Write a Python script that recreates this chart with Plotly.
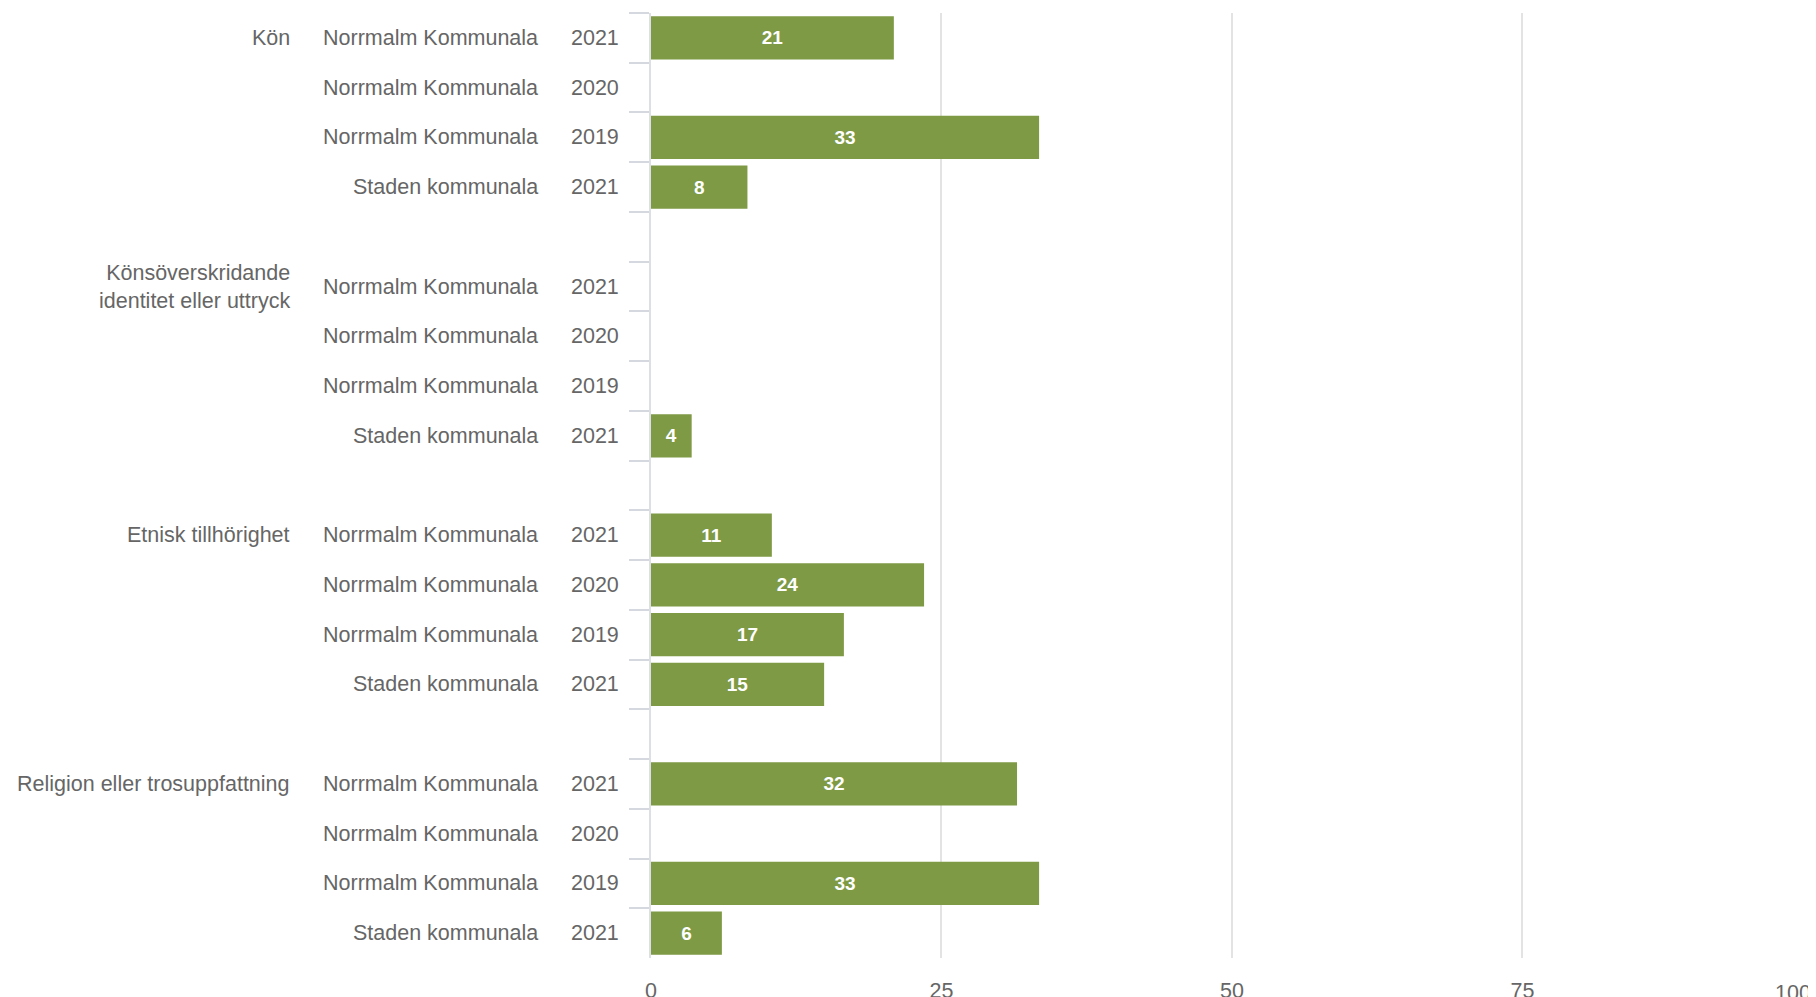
import plotly.graph_objects as go

# ---- data ----
groups = ["Kön", "Könsöverskridande<br>identitet eller uttryck", "Etnisk tillhörighet", "Religion eller trosuppfattning"]
units = ["Norrmalm Kommunala", "Norrmalm Kommunala", "Norrmalm Kommunala", "Staden kommunala"]
years = ["2021", "2020", "2019", "2021"]
values_kon = [20.9, None, 33.4, 8.3]
values_kons = [None, None, None, 3.5]
values_etn = [10.4, 23.5, 16.6, 14.9]
values_rel = [31.5, None, 33.4, 6.1]
labels_kon = ["21", "", "33", "8"]
labels_kons = ["", "", "", "4"]
labels_etn = ["11", "24", "17", "15"]
labels_rel = ["32", "", "33", "6"]
x_ticks = [0, 25, 50, 75, 100]

group_values = [values_kon, values_kons, values_etn, values_rel]
group_labels = [labels_kon, labels_kons, labels_etn, labels_rel]

# ---- build rows (with a blank spacer row between groups) ----
cats, vals, texts = [], [], []
row_unit, row_year, row_group = [], [], []
for gi, g in enumerate(groups):
    for ri in range(len(units)):
        cid = f"g{gi}r{ri}"
        cats.append(cid)
        vals.append(group_values[gi][ri])
        texts.append(group_labels[gi][ri])
        row_unit.append((cid, units[ri]))
        row_year.append((cid, years[ri]))
        if ri == 0:
            row_group.append((cid, g))
    if gi < len(groups) - 1:
        cid = f"gap{gi}"
        cats.append(cid)
        vals.append(None)
        texts.append("")

# page body has an 8px margin; figure is sized/placed to compensate
OFF = 8
W, H = 1808, 989
ML, MR, MT, MB = 643, 0, 5, 39
PW = W - ML - MR
PH = H - MT - MB
X_MAX = 100.26  # plot area runs slightly past the 100 gridline

def px_to_paper(px_page):
    return (px_page - OFF - ML) / PW

def py_to_paper(py_page):
    return 1 - (py_page - OFF - MT) / PH

FONT = "Liberation Sans, Arial, Helvetica, sans-serif"
TXT = "#666666"
FS = 21.5

fig = go.Figure()
fig.add_trace(go.Bar(
    y=cats, x=vals, orientation="h",
    marker=dict(color="#7e9a44", line=dict(width=0)),
    text=texts, textposition="inside", insidetextanchor="middle",
    textangle=0, constraintext="none",
    textfont=dict(family=FONT, size=19, color="#ffffff", weight="bold"),
    hoverinfo="skip",
))

annotations = []
for cid, t in row_group:
    annotations.append(dict(x=px_to_paper(292), xref="paper", y=cid, yref="y",
                            text=t, showarrow=False, xanchor="right", yanchor="middle",
                            align="right", font=dict(family=FONT, size=FS, color=TXT)))
for cid, t in row_unit:
    annotations.append(dict(x=px_to_paper(540), xref="paper", y=cid, yref="y",
                            text=t, showarrow=False, xanchor="right", yanchor="middle",
                            font=dict(family=FONT, size=FS, color=TXT)))
for cid, t in row_year:
    annotations.append(dict(x=px_to_paper(620.5), xref="paper", y=cid, yref="y",
                            text=t, showarrow=False, xanchor="right", yanchor="middle",
                            font=dict(family=FONT, size=FS, color=TXT)))

# last x tick label is justified to stay inside the chart (as in the reference)
tick_text = [str(v) for v in x_ticks[:-1]] + [""]
annotations.append(dict(x=px_to_paper(1813), xref="paper", y=py_to_paper(992.5), yref="paper",
                        text=str(x_ticks[-1]), showarrow=False, xanchor="right", yanchor="middle",
                        font=dict(family=FONT, size=FS, color=TXT)))

fig.update_layout(
    width=W, height=H,
    margin=dict(l=ML, r=MR, t=MT, b=MB, pad=0),
    paper_bgcolor="white", plot_bgcolor="white",
    bargap=0.13,
    showlegend=False,
    annotations=annotations,
    font=dict(family=FONT, size=FS, color=TXT),
)
fig.update_xaxes(
    range=[0, X_MAX], tickvals=x_ticks, ticktext=tick_text,
    showgrid=True, gridcolor="#e3e3e3", gridwidth=1.5,
    zeroline=False, showline=False,
    ticks="outside", ticklen=13, tickcolor="rgba(0,0,0,0)",
    tickfont=dict(family=FONT, size=FS, color=TXT),
    ticklabeloverflow="allow",
    automargin=False, fixedrange=True,
)
fig.update_yaxes(
    type="category", categoryorder="array", categoryarray=cats,
    autorange="reversed",
    showgrid=False, zeroline=False,
    showline=True, linecolor="#dcdfe4", linewidth=1.5,
    ticks="outside", tickson="boundaries", ticklen=20, tickcolor="#d5d9df", tickwidth=1.5,
    showticklabels=False, automargin=False, fixedrange=True,
)

fig.write_html("out.html")
